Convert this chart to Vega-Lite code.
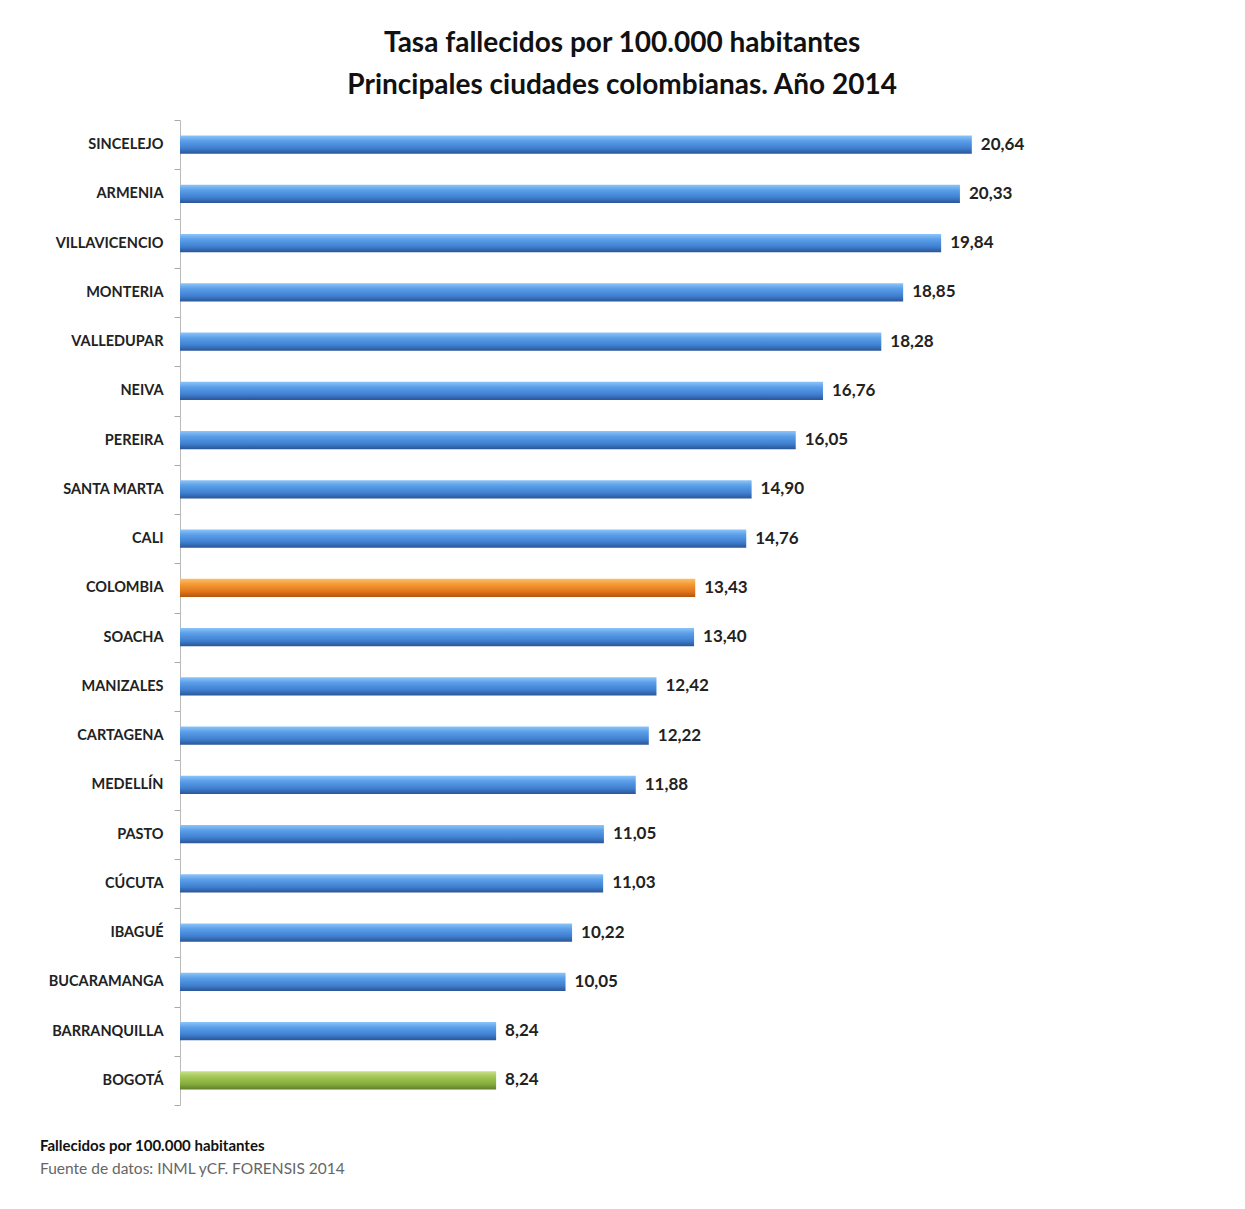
{
  "$schema": "https://vega.github.io/schema/vega-lite/v6.json",
  "background": "white",
  "padding": {"left": 40, "top": 30, "right": 10, "bottom": 10},
  "config": {
    "font": "Lato",
    "view": {"stroke": null},
    "locale": {"number": {"decimal": ",", "thousands": ".", "grouping": [3], "currency": ["$", ""]}}
  },
  "title": {
    "text": ["Tasa fallecidos por 100.000 habitantes", "Principales ciudades colombianas.  Año 2014"],
    "fontSize": 28,
    "fontWeight": "bold",
    "lineHeight": 42,
    "color": "#111",
    "anchor": "middle",
    "dx": 90,
    "offset": 12
  },
  "vconcat": [
    {
      "width": 844,
      "height": 985,
      "title": {
        "text": "Fallecidos por 100.000 habitantes",
        "subtitle": "Fuente de datos:  INML yCF. FORENSIS 2014",
        "orient": "bottom",
        "anchor": "start",
        "frame": "group",
        "dx": -140,
        "fontSize": 15,
        "fontWeight": "bold",
        "color": "#111",
        "subtitleFontSize": 15.5,
        "subtitleColor": "#666",
        "subtitlePadding": 8,
        "offset": 33
      },
      "data": {
        "values": [
          {"ciudad": "SINCELEJO", "tasa": 20.64},
          {"ciudad": "ARMENIA", "tasa": 20.33},
          {"ciudad": "VILLAVICENCIO", "tasa": 19.84},
          {"ciudad": "MONTERIA", "tasa": 18.85},
          {"ciudad": "VALLEDUPAR", "tasa": 18.28},
          {"ciudad": "NEIVA", "tasa": 16.76},
          {"ciudad": "PEREIRA", "tasa": 16.05},
          {"ciudad": "SANTA MARTA", "tasa": 14.90},
          {"ciudad": "CALI", "tasa": 14.76},
          {"ciudad": "COLOMBIA", "tasa": 13.43},
          {"ciudad": "SOACHA", "tasa": 13.40},
          {"ciudad": "MANIZALES", "tasa": 12.42},
          {"ciudad": "CARTAGENA", "tasa": 12.22},
          {"ciudad": "MEDELLÍN", "tasa": 11.88},
          {"ciudad": "PASTO", "tasa": 11.05},
          {"ciudad": "CÚCUTA", "tasa": 11.03},
          {"ciudad": "IBAGUÉ", "tasa": 10.22},
          {"ciudad": "BUCARAMANGA", "tasa": 10.05},
          {"ciudad": "BARRANQUILLA", "tasa": 8.24},
          {"ciudad": "BOGOTÁ", "tasa": 8.24}
        ]
      },
      "encoding": {
        "y": {
          "field": "ciudad",
          "type": "nominal",
          "sort": ["SINCELEJO", "ARMENIA", "VILLAVICENCIO", "MONTERIA", "VALLEDUPAR", "NEIVA", "PEREIRA", "SANTA MARTA", "CALI", "COLOMBIA", "SOACHA", "MANIZALES", "CARTAGENA", "MEDELLÍN", "PASTO", "CÚCUTA", "IBAGUÉ", "BUCARAMANGA", "BARRANQUILLA", "BOGOTÁ"],
          "scale": {"paddingInner": 0, "paddingOuter": 0},
          "axis": {
            "title": null,
            "tickBand": "extent",
            "tickSize": 6,
            "tickColor": "#aaa",
            "domainColor": "#bbb",
            "labelPadding": 11,
            "labelFont": "Lato",
            "labelFontSize": 14.5,
            "labelFontWeight": "bold",
            "labelColor": "#222"
          }
        },
        "x": {
          "field": "tasa",
          "type": "quantitative",
          "scale": {"domain": [0, 22], "nice": false},
          "axis": null
        }
      },
      "layer": [
        {
          "transform": [{"filter": "datum.ciudad !== 'COLOMBIA' && datum.ciudad !== 'BOGOTÁ'"}],
          "mark": {
            "type": "bar",
            "height": {"band": 0.37},
            "color": {
              "gradient": "linear", "x1": 0, "y1": 0, "x2": 0, "y2": 1,
              "stops": [
                {"offset": 0, "color": "#8cc4f8"},
                {"offset": 0.3, "color": "#5a9ee8"},
                {"offset": 0.7, "color": "#3f7fd0"},
                {"offset": 1, "color": "#2a5595"}
              ]
            }
          }
        },
        {
          "transform": [{"filter": "datum.ciudad === 'COLOMBIA'"}],
          "mark": {
            "type": "bar",
            "height": {"band": 0.37},
            "color": {
              "gradient": "linear", "x1": 0, "y1": 0, "x2": 0, "y2": 1,
              "stops": [
                {"offset": 0, "color": "#fbbf6a"},
                {"offset": 0.3, "color": "#f49a35"},
                {"offset": 0.7, "color": "#e2761a"},
                {"offset": 1, "color": "#b0560f"}
              ]
            }
          }
        },
        {
          "transform": [{"filter": "datum.ciudad === 'BOGOTÁ'"}],
          "mark": {
            "type": "bar",
            "height": {"band": 0.37},
            "color": {
              "gradient": "linear", "x1": 0, "y1": 0, "x2": 0, "y2": 1,
              "stops": [
                {"offset": 0, "color": "#c8e08a"},
                {"offset": 0.3, "color": "#a2c757"},
                {"offset": 0.7, "color": "#86ad3c"},
                {"offset": 1, "color": "#5f7f28"}
              ]
            }
          }
        },
        {
          "mark": {"type": "text", "align": "left", "baseline": "middle", "dx": 9, "fontSize": 17, "fontWeight": "bold", "color": "#222", "font": "Lato"},
          "encoding": {
            "text": {"field": "tasa", "type": "quantitative", "format": ".2f"}
          }
        }
      ]
    }
  ]
}
